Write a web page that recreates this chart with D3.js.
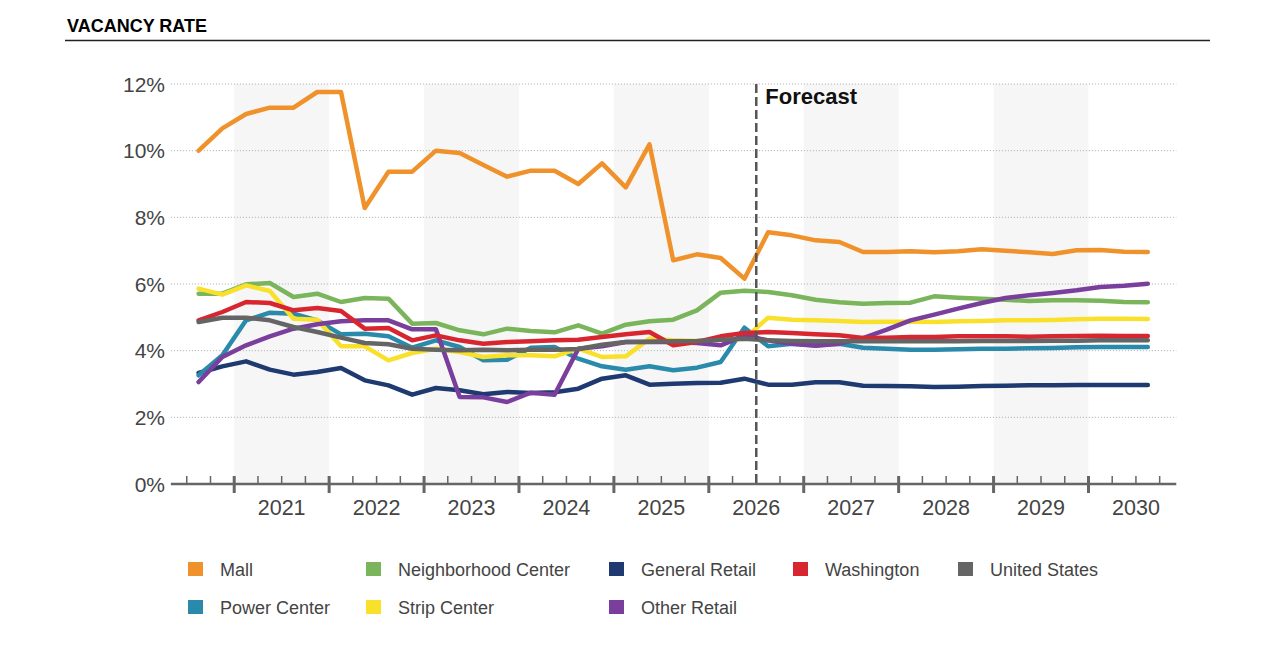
<!DOCTYPE html>
<html>
<head>
<meta charset="utf-8">
<script src="https://cdn.jsdelivr.net/npm/d3@7"></script>
<style>
  html, body { margin: 0; padding: 0; background: #fff; }
  svg { display: block; font-family: Arial, "Liberation Sans", sans-serif; }
</style>
</head>
<body>
<svg id="chart" width="1275" height="661"></svg>
<script>
// ---------- DATA ----------
const title = "VACANCY RATE";
const forecastLabel = "Forecast";
const quarters = [
  "2020 Q3","2020 Q4",
  "2021 Q1","2021 Q2","2021 Q3","2021 Q4",
  "2022 Q1","2022 Q2","2022 Q3","2022 Q4",
  "2023 Q1","2023 Q2","2023 Q3","2023 Q4",
  "2024 Q1","2024 Q2","2024 Q3","2024 Q4",
  "2025 Q1","2025 Q2","2025 Q3","2025 Q4",
  "2026 Q1","2026 Q2","2026 Q3","2026 Q4",
  "2027 Q1","2027 Q2","2027 Q3","2027 Q4",
  "2028 Q1","2028 Q2","2028 Q3","2028 Q4",
  "2029 Q1","2029 Q2","2029 Q3","2029 Q4",
  "2030 Q1","2030 Q2","2030 Q3"
];
const years = [2020, 2021, 2022, 2023, 2024, 2025, 2026, 2027, 2028, 2029, 2030];
const yearLabels = ["2021","2022","2023","2024","2025","2026","2027","2028","2029","2030"];
const shadedYears = [2021, 2023, 2025, 2027, 2029];
const forecastStart = "2026 Q3";
const yTicks = [0, 2, 4, 6, 8, 10, 12];

const mall = [10.0,10.67,11.1,11.29,11.29,11.76,11.76,8.28,9.37,9.37,10.0,9.93,9.57,9.22,9.4,9.4,9.0,9.62,8.9,10.19,6.71,6.89,6.78,6.16,7.55,7.46,7.31,7.26,6.96,6.96,6.98,6.95,6.98,7.04,7.0,6.95,6.9,7.01,7.02,6.97,6.96];
const neighborhoodCenter = [5.71,5.71,5.99,6.03,5.61,5.71,5.46,5.58,5.56,4.81,4.83,4.61,4.49,4.66,4.59,4.55,4.76,4.51,4.78,4.88,4.93,5.21,5.74,5.80,5.76,5.66,5.53,5.45,5.41,5.43,5.44,5.63,5.59,5.56,5.53,5.49,5.51,5.51,5.5,5.46,5.45];
const generalRetail = [3.33,3.53,3.68,3.43,3.28,3.36,3.48,3.11,2.96,2.68,2.88,2.81,2.69,2.76,2.73,2.75,2.86,3.16,3.26,2.98,3.01,3.03,3.04,3.16,2.98,2.98,3.05,3.05,2.95,2.94,2.93,2.91,2.92,2.94,2.95,2.96,2.96,2.97,2.97,2.97,2.97];
const washington = [4.91,5.16,5.46,5.43,5.21,5.28,5.19,4.66,4.68,4.31,4.46,4.31,4.21,4.26,4.28,4.31,4.33,4.41,4.49,4.56,4.16,4.26,4.43,4.53,4.56,4.53,4.49,4.46,4.38,4.39,4.41,4.41,4.43,4.43,4.43,4.42,4.43,4.44,4.45,4.44,4.44];
const unitedStates = [4.86,4.99,4.99,4.91,4.71,4.56,4.39,4.23,4.19,4.06,4.03,4.01,4.03,4.01,4.03,4.03,4.05,4.18,4.26,4.27,4.28,4.29,4.33,4.36,4.31,4.29,4.28,4.28,4.28,4.28,4.28,4.28,4.28,4.29,4.29,4.29,4.30,4.30,4.31,4.31,4.31];
const powerCenter = [3.26,3.86,4.91,5.14,5.11,4.91,4.49,4.51,4.43,4.09,4.31,4.11,3.71,3.73,4.09,4.11,3.76,3.53,3.43,3.53,3.41,3.49,3.66,4.69,4.13,4.21,4.16,4.21,4.09,4.06,4.03,4.03,4.04,4.06,4.06,4.07,4.08,4.10,4.11,4.11,4.11];
const stripCenter = [5.86,5.68,5.96,5.79,4.96,4.93,4.13,4.13,3.71,3.93,4.06,3.96,3.81,3.86,3.86,3.83,4.06,3.81,3.83,4.36,4.31,4.29,4.33,4.36,4.99,4.93,4.91,4.89,4.86,4.87,4.87,4.86,4.88,4.89,4.91,4.91,4.92,4.94,4.96,4.96,4.95];
const otherRetail = [3.06,3.81,4.16,4.43,4.66,4.79,4.88,4.91,4.91,4.64,4.64,2.61,2.6,2.46,2.74,2.68,4.06,4.13,4.26,4.26,4.26,4.23,4.16,4.45,4.31,4.21,4.15,4.21,4.38,4.63,4.91,5.08,5.26,5.43,5.58,5.66,5.73,5.81,5.91,5.95,6.01];

const seriesNames = ["Mall","Neighborhood Center","General Retail","Washington","United States","Power Center","Strip Center","Other Retail"];
const seriesValues = [mall, neighborhoodCenter, generalRetail, washington, unitedStates, powerCenter, stripCenter, otherRetail];
const seriesColors = ["#f0922b","#7ab55c","#1e3a70","#d7262f","#656565","#2a8aab","#f9e02b","#7a3f9c"];
// drawing order (back to front)
const drawOrder = ["Mall","Neighborhood Center","General Retail","Power Center","Strip Center","Other Retail","Washington","United States"];
// legend rows
const legendRows = [
  ["Mall","Neighborhood Center","General Retail","Washington","United States"],
  ["Power Center","Strip Center","Other Retail"]
];

// ---------- LAYOUT ----------
const svg = d3.select("#chart");

// quarter index relative to 2020 Q1 (0 = start of 2020)
const qIndex = s => { const [y, q] = s.split(" Q"); return (+y - 2020) * 4 + (+q - 1); };
const x = d3.scaleLinear().domain([0, 44]).range([139.3, 1183.4]);
const y = d3.scaleLinear().domain([0, 12]).range([484, 84]);
const axisStartQ = 1.33, axisEndQ = 43.7;

// title
svg.append("text").attr("x", 67).attr("y", 32)
  .attr("font-size", 18).attr("font-weight", "bold").attr("fill", "#000")
  .text(title);
svg.append("line").attr("x1", 65).attr("x2", 1210).attr("y1", 40.5).attr("y2", 40.5)
  .attr("stroke", "#222").attr("stroke-width", 1.3);

// shaded year bands
svg.append("g").selectAll("rect").data(shadedYears).join("rect")
  .attr("x", d => x((d - 2020) * 4))
  .attr("width", d => x((d - 2020) * 4 + 4) - x((d - 2020) * 4))
  .attr("y", y(12)).attr("height", y(0) - y(12))
  .attr("fill", "#f6f6f6");

// gridlines
svg.append("g").selectAll("line").data(yTicks.filter(d => d > 0)).join("line")
  .attr("x1", x(axisStartQ)).attr("x2", x(axisEndQ))
  .attr("y1", d => y(d)).attr("y2", d => y(d))
  .attr("stroke", "#aaa").attr("stroke-width", 1).attr("stroke-dasharray", "1,2");

// y labels
svg.append("g").selectAll("text").data(yTicks).join("text")
  .attr("x", 165).attr("y", d => y(d) + 7.5)
  .attr("text-anchor", "end").attr("font-size", 21).attr("fill", "#444")
  .text(d => d + "%");

// lines
const line = d3.line().x((d, i) => x(qIndex(quarters[i]) + 0.5)).y(d => y(d));
const lineG = svg.append("g");
drawOrder.forEach(name => {
  const i = seriesNames.indexOf(name);
  lineG.append("path").datum(seriesValues[i])
    .attr("d", line).attr("fill", "none")
    .attr("stroke", seriesColors[i]).attr("stroke-width", 4.5)
    .attr("stroke-linejoin", "round").attr("stroke-linecap", "round");
});

// x axis
const axisY = y(0);
svg.append("line").attr("x1", x(axisStartQ)).attr("x2", x(axisEndQ))
  .attr("y1", axisY).attr("y2", axisY).attr("stroke", "#666").attr("stroke-width", 2.5);
const minorQs = d3.range(2, 44).filter(q => q % 4 !== 0);
svg.append("g").selectAll("line").data(minorQs).join("line")
  .attr("x1", d => x(d)).attr("x2", d => x(d))
  .attr("y1", axisY - 8).attr("y2", axisY)
  .attr("stroke", "#666").attr("stroke-width", 1.5);
const majorQs = years.slice(1).map(yr => (yr - 2020) * 4);
svg.append("g").selectAll("line").data(majorQs).join("line")
  .attr("x1", d => x(d)).attr("x2", d => x(d))
  .attr("y1", axisY - 8).attr("y2", axisY + 9)
  .attr("stroke", "#666").attr("stroke-width", 3);
svg.append("g").selectAll("text").data(yearLabels).join("text")
  .attr("x", d => x((+d - 2020) * 4 + 2)).attr("y", 515)
  .attr("text-anchor", "middle").attr("font-size", 21.5).attr("fill", "#444")
  .text(d => d);

// forecast line
const fx = x(qIndex(forecastStart));
svg.append("line").attr("x1", fx).attr("x2", fx).attr("y1", y(12)).attr("y2", axisY)
  .attr("stroke", "#555").attr("stroke-width", 2.5).attr("stroke-dasharray", "9,4");
svg.append("text").attr("x", fx + 9).attr("y", 104)
  .attr("font-size", 22).attr("font-weight", "bold").attr("fill", "#111")
  .text(forecastLabel);

// legend
const legendCols = [188, 366, 609, 793, 958];
const legendRowY = [569, 607];
legendRows.forEach((row, r) => {
  row.forEach((name, c) => {
    const i = seriesNames.indexOf(name);
    const g = svg.append("g").attr("transform", `translate(${legendCols[c]},${legendRowY[r]})`);
    g.append("rect").attr("x", 0).attr("y", -7).attr("width", 15).attr("height", 14)
      .attr("fill", seriesColors[i]);
    g.append("text").attr("x", 32).attr("y", 6.5)
      .attr("font-size", 18).attr("fill", "#444").text(name);
  });
});
</script>
</body>
</html>
